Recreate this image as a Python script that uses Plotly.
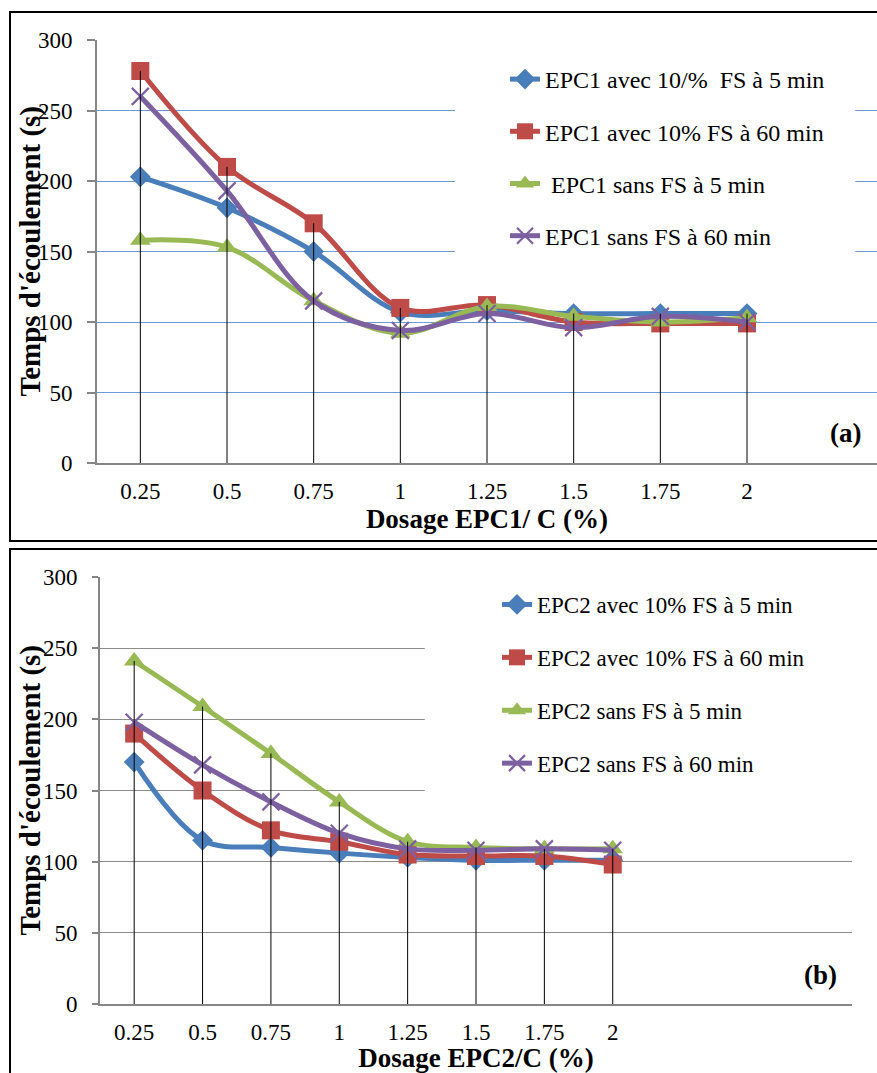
import plotly.graph_objects as go

W, H = 877, 1073

doses = ["0.25", "0.5", "0.75", "1", "1.25", "1.5", "1.75", "2"]

# Panel (a) EPC1
epc1_fs_5 = [203, 181, 150, 107, 108, 106, 106, 106]
epc1_fs_60 = [278, 210, 170, 110, 112, 100, 99, 99]
epc1_sans_5 = [158, 153, 115, 92, 111, 104, 100, 103]
epc1_sans_60 = [260, 193, 115, 94, 106, 96, 104, 100]

# Panel (b) EPC2
epc2_fs_5 = [170, 115, 110, 106, 103, 101, 101, 101]
epc2_fs_60 = [190, 150, 122, 114, 105, 104, 104, 98]
epc2_sans_5 = [241, 209, 176, 142, 114, 110, 109, 109]
epc2_sans_60 = [198, 168, 142, 120, 109, 108, 109, 108]

names1 = ["EPC1 avec 10/%\u00a0\u00a0FS à 5 min", "EPC1 avec 10% FS à 60 min",
          "\u00a0EPC1 sans FS à 5 min", "EPC1 sans FS à 60 min"]
names2 = ["EPC2 avec 10% FS à 5 min", "EPC2 avec 10% FS à 60 min",
          "EPC2 sans FS à 5 min", "EPC2 sans FS à 60 min"]

colors = ["#4A7EBB", "#BE4B48", "#98B954", "#7D60A0"]
symbols = ["diamond", "square", "triangle-up", "x-thin"]
msizes = [16, 18, 18, 17]

FONT = "Liberation Serif, Times New Roman, serif"

def py(px):
    return 1 - px / H

fig = go.Figure()

def add_panel(series, names, xa, ya, leg):
    for i, (vals, nm) in enumerate(zip(series, names)):
        marker = dict(symbol=symbols[i], size=msizes[i], color=colors[i])
        if symbols[i] == "x-thin":
            marker["line"] = dict(color=colors[i], width=2.2)
        fig.add_trace(go.Scatter(
            x=doses, y=vals, name=nm, mode="lines+markers",
            line=dict(color=colors[i], width=5, shape="spline", smoothing=1.0),
            marker=marker, xaxis=xa, yaxis=ya, legend=leg,
            legendgroup=f"{leg}_{i}",
        ))
    # drop lines from the highest point to the axis
    dx, dy = [], []
    for k, d in enumerate(doses):
        top = max(s[k] for s in series)
        dx += [d, d, None]
        dy += [0, top, None]
    fig.add_trace(go.Scatter(x=dx, y=dy, mode="lines", line=dict(color="black", width=1),
                             showlegend=False, hoverinfo="skip", xaxis=xa, yaxis=ya))

add_panel([epc1_fs_5, epc1_fs_60, epc1_sans_5, epc1_sans_60], names1, "x", "y", "legend")
add_panel([epc2_fs_5, epc2_fs_60, epc2_sans_5, epc2_sans_60], names2, "x2", "y2", "legend2")

tickfont = dict(family=FONT, size=23, color="black")
titlefont = dict(family=FONT, size=27, color="black")
ytitlefont = dict(family=FONT, size=29, color="black")
axcol = "#868686"

def xaxis(dom, rng, title):
    return dict(domain=dom, type="category", range=rng, showgrid=False, showline=True,
                linecolor=axcol, linewidth=2.2, ticks="", tickfont=tickfont,
                ticklabelstandoff=6, zeroline=False, automargin=False,
                title=dict(text="<b>" + title + "</b>", font=titlefont, standoff=4))

def yaxis(dom, anchor, grid, ticklen):
    return dict(domain=dom, anchor=anchor, range=[0, 300], dtick=50, showgrid=True,
                gridcolor=grid, gridwidth=1, showline=True, linecolor=axcol, linewidth=2,
                ticks="outside", ticklen=ticklen, tickcolor=axcol, tickwidth=1.5,
                tickfont=tickfont, ticklabelstandoff=10, zeroline=False, automargin=False)

ytitle = "Temps d'écoulement (s)"

fig.update_layout(
    width=W, height=H, margin=dict(l=0, r=0, t=0, b=0, autoexpand=False),
    paper_bgcolor="white", plot_bgcolor="white",
    xaxis=dict(**xaxis([97 / W, 1.0], [-0.5, 8.5], "Dosage EPC1/ C (%)"), anchor="y"),
    yaxis=yaxis([py(463), py(40)], "x", "#6C9AD4", 8),
    xaxis2=dict(**xaxis([100 / W, 852 / W], [-0.5, 10.5], "Dosage EPC2/C (%)"), anchor="y2"),
    yaxis2=yaxis([py(1004), py(577)], "x2", "#8C8C8C", 6),
    legend=dict(x=505 / W, y=py(57), xanchor="left", yanchor="top",
                bgcolor="rgba(0,0,0,0)", font=dict(family=FONT, size=24, color="black"),
                traceorder="grouped", tracegroupgap=18),
    legend2=dict(x=497 / W, y=py(583), xanchor="left", yanchor="top",
                 bgcolor="rgba(0,0,0,0)", font=dict(family=FONT, size=23, color="black"),
                 traceorder="grouped", tracegroupgap=20),
    showlegend=True,
)

# y-axis titles
fig.add_annotation(text="<b>" + ytitle + "</b>", xref="paper", yref="y domain", x=30 / W, y=0.5,
                   textangle=-90, showarrow=False, font=ytitlefont,
                   xanchor="center", yanchor="middle")
fig.add_annotation(text="<b>" + ytitle + "</b>", xref="paper", yref="y2 domain", x=30 / W, y=0.5,
                   textangle=-90, showarrow=False, font=ytitlefont,
                   xanchor="center", yanchor="middle")

# white boxes behind the legends (hide gridlines, stay under traces)
fig.add_shape(type="rect", xref="x", yref="y", x0=3.63, x1=8.25,
              y0=123, y1=286, fillcolor="white", line=dict(width=0), layer="between")
fig.add_shape(type="rect", xref="x2", yref="y2", x0=4.25, x1=10.5,
              y0=140, y1=294, fillcolor="white", line=dict(width=0), layer="between")

# panel borders
fig.add_shape(type="rect", xref="paper", yref="paper", x0=10 / W, x1=1.05,
              y0=py(541), y1=py(12), line=dict(color="black", width=2), fillcolor="rgba(0,0,0,0)")
fig.add_shape(type="rect", xref="paper", yref="paper", x0=10 / W, x1=1.05,
              y0=-0.05, y1=py(549), line=dict(color="black", width=2), fillcolor="rgba(0,0,0,0)")

fig.add_annotation(text="<b>(a)</b>", xref="paper", yref="paper", x=845 / W, y=py(433),
                   showarrow=False, font=titlefont, xanchor="center", yanchor="middle")
fig.add_annotation(text="<b>(b)</b>", xref="paper", yref="paper", x=820 / W, y=py(975),
                   showarrow=False, font=titlefont, xanchor="center", yanchor="middle")

fig.write_html("out.html")
